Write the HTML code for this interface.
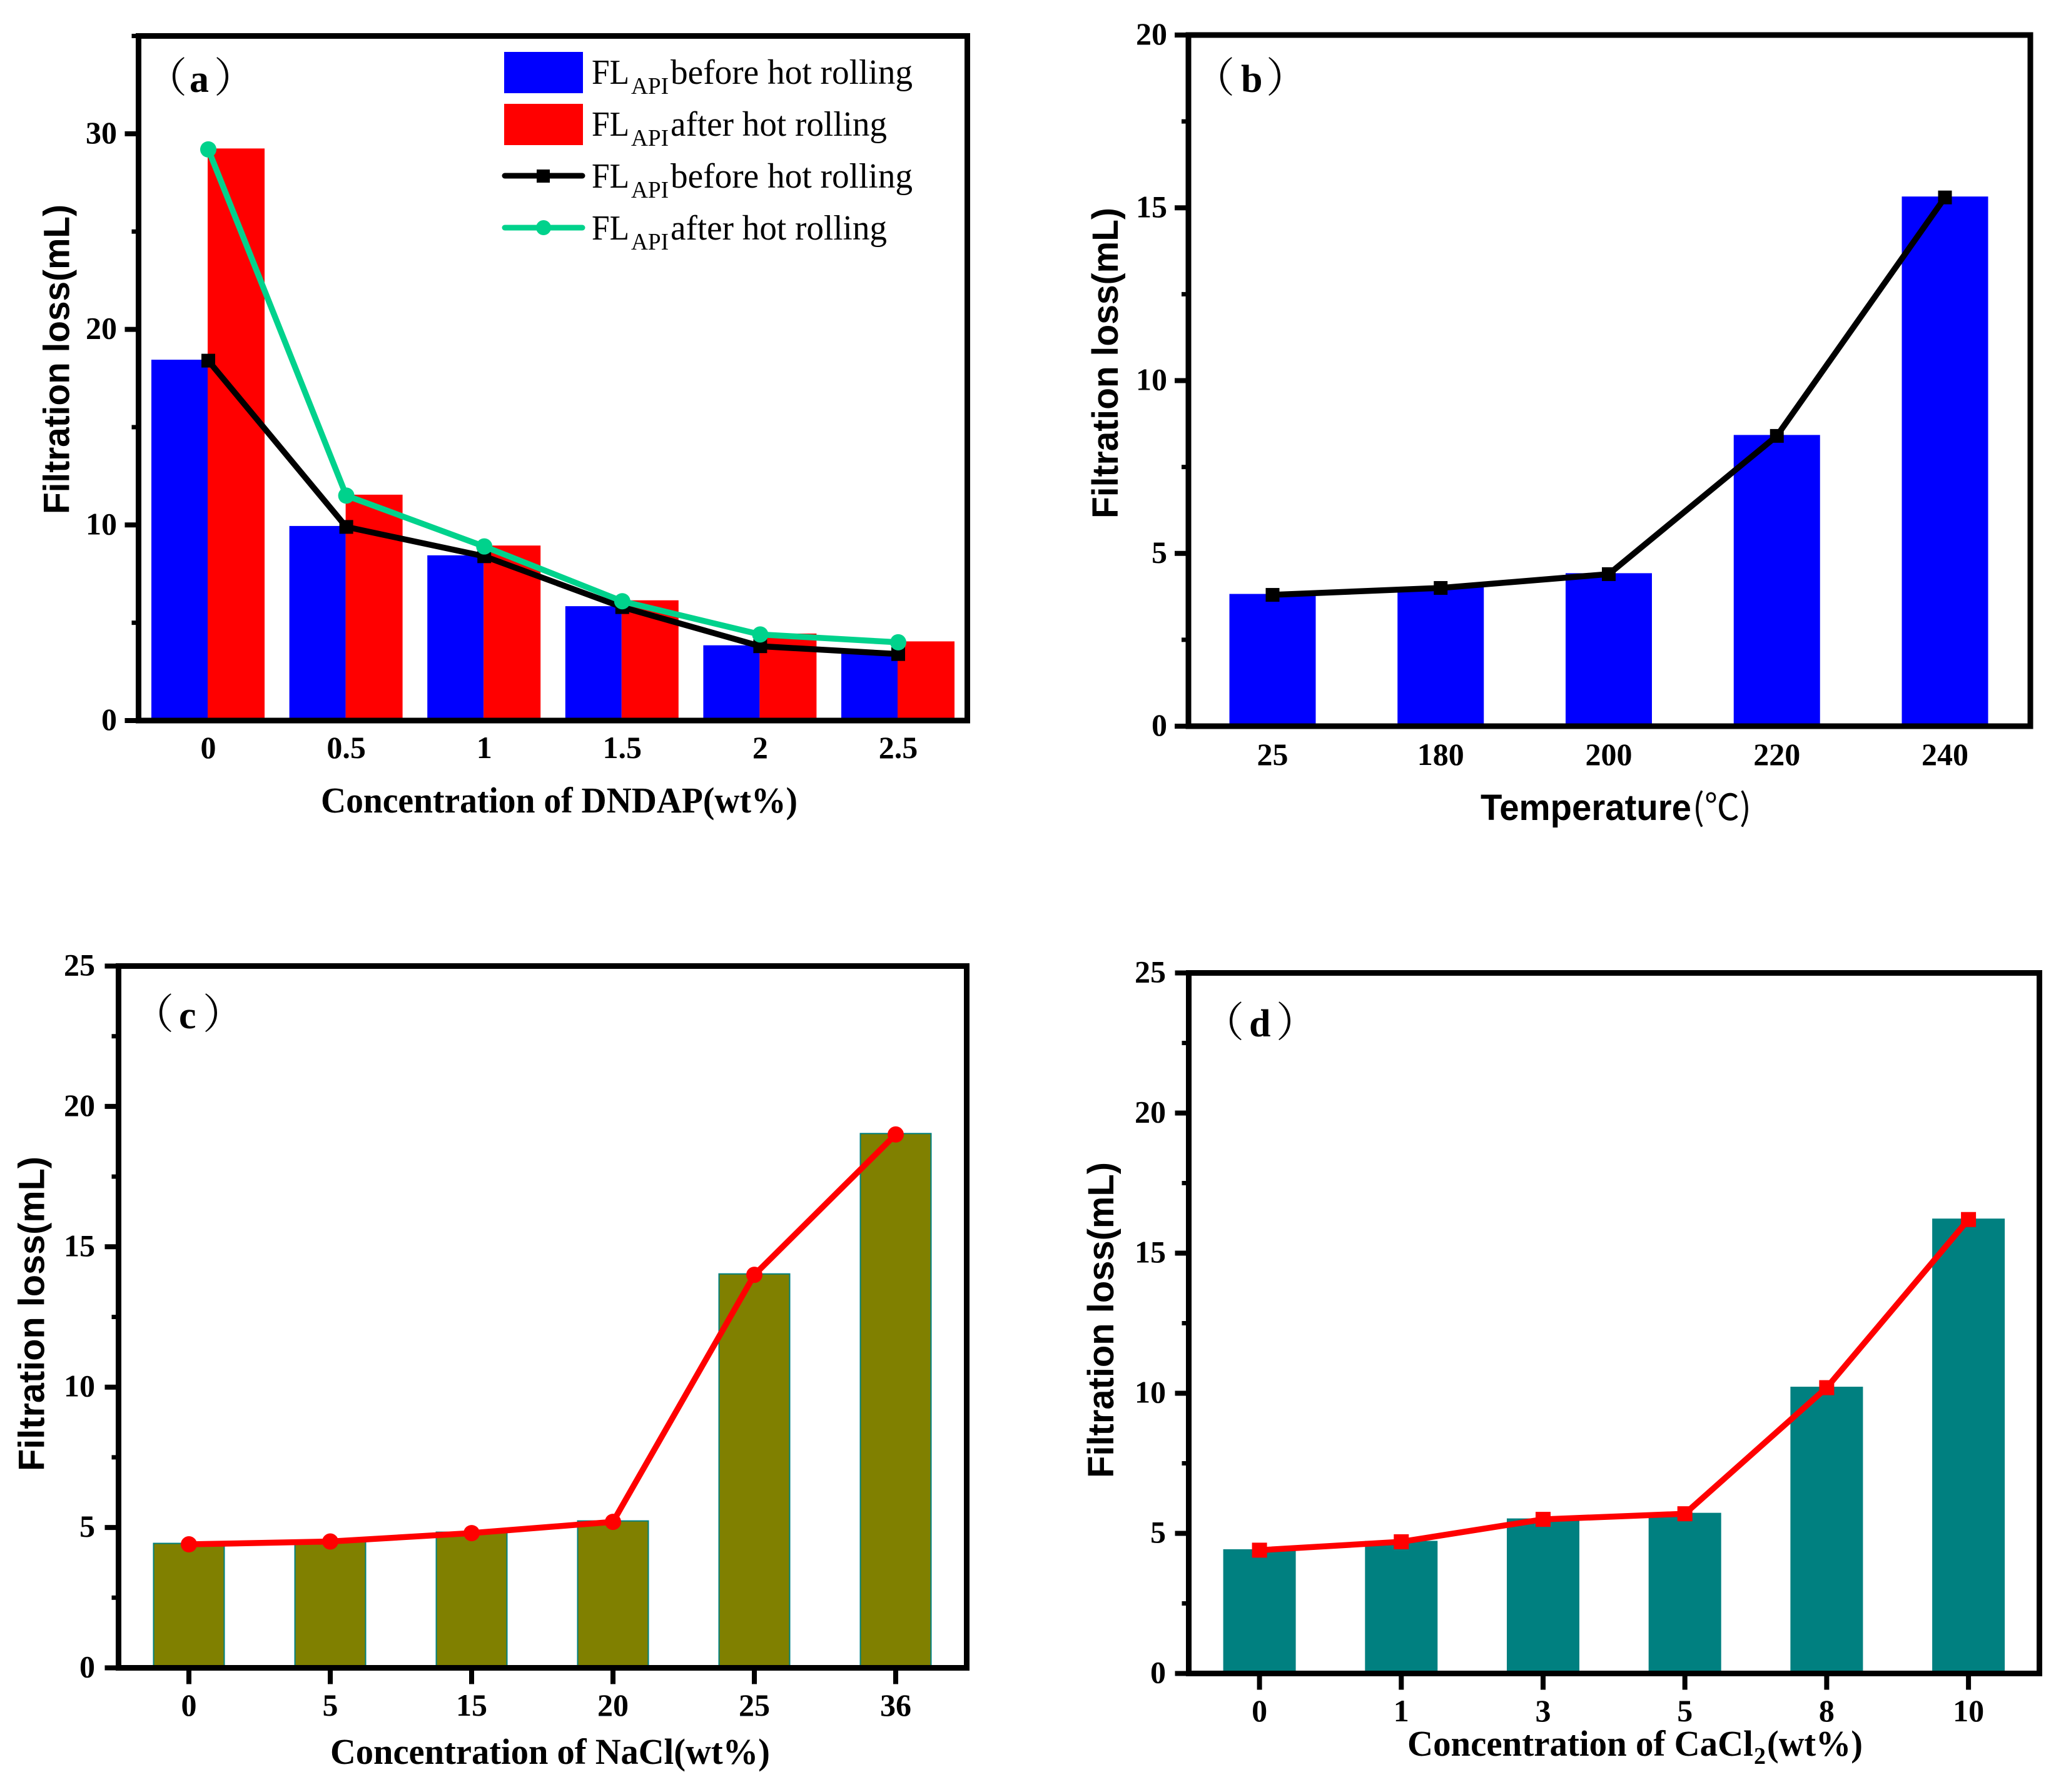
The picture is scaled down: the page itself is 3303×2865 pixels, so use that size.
<!DOCTYPE html>
<html lang="en">
<head>
<meta charset="utf-8">
<title>Filtration loss charts</title>
<style>
html,body{margin:0;padding:0;background:#fff;}
svg{display:block;}
text{fill:#000;}
.serif{font-family:"Liberation Serif","Noto Serif CJK SC",serif;}
.sans{font-family:"Liberation Sans","Noto Sans CJK SC",sans-serif;font-weight:bold;}
.tick{font-family:"Liberation Serif",serif;font-weight:bold;font-size:50px;}
.xtitle{font-family:"Liberation Serif",serif;font-weight:bold;font-size:58px;}
.ytitle{font-family:"Liberation Sans",sans-serif;font-weight:bold;font-size:58px;}
.paren{font-family:"Noto Serif CJK SC",serif;font-size:66px;}
.plabel{font-family:"Liberation Serif",serif;font-weight:bold;font-size:62px;}
.leg{font-family:"Liberation Serif",serif;font-size:56px;}
.legsub{font-family:"Liberation Serif",serif;font-size:38px;}
</style>
</head>
<body>
<svg id="figure" xmlns="http://www.w3.org/2000/svg" width="3303" height="2865" viewBox="0 0 3303 2865">
  <rect x="0" y="0" width="3303" height="2865" fill="#fff"/>

  <g id="panel-a"></g>
  <g id="panel-b"></g>
  <g id="panel-c"></g>
  <g id="panel-d"></g>

  <!-- Panel a static text -->
  <g>
    <text class="paren" x="233" y="147">（</text><text class="plabel" x="303" y="147">a</text><text class="paren" x="342" y="147">）</text>
  </g>
  <text class="xtitle" x="513" y="1299" textLength="762" lengthAdjust="spacingAndGlyphs">Concentration of DNDAP(wt%)</text>
  <text class="ytitle" transform="translate(110.5,822) rotate(-90)" textLength="495" lengthAdjust="spacingAndGlyphs">Filtration loss(mL)</text>

  <!-- Panel a legend -->
  <g>
    <rect x="806" y="83" width="126" height="66" fill="#0000ff"/>
    <g>
      <text class="leg" x="946" y="134" textLength="60" lengthAdjust="spacingAndGlyphs">FL</text><text class="legsub" x="1009" y="150" textLength="60" lengthAdjust="spacingAndGlyphs">API</text><text class="leg" x="1072" y="134" textLength="387" lengthAdjust="spacingAndGlyphs">before hot rolling</text>
    </g>
    <rect x="806" y="166" width="126" height="66" fill="#ff0000"/>
    <g>
      <text class="leg" x="946" y="217" textLength="60" lengthAdjust="spacingAndGlyphs">FL</text><text class="legsub" x="1009" y="233" textLength="60" lengthAdjust="spacingAndGlyphs">API</text><text class="leg" x="1072" y="217" textLength="346" lengthAdjust="spacingAndGlyphs">after hot rolling</text>
    </g>
    <g>
      <line x1="807" y1="281" x2="931" y2="281" stroke="#000" stroke-width="9" stroke-linecap="round"/>
      <rect x="858" y="271" width="21" height="21" fill="#000"/>
    </g>
    <g>
      <text class="leg" x="946" y="300" textLength="60" lengthAdjust="spacingAndGlyphs">FL</text><text class="legsub" x="1009" y="316" textLength="60" lengthAdjust="spacingAndGlyphs">API</text><text class="leg" x="1072" y="300" textLength="387" lengthAdjust="spacingAndGlyphs">before hot rolling</text>
    </g>
    <g>
      <line x1="807" y1="364" x2="931" y2="364" stroke="#00d28c" stroke-width="9" stroke-linecap="round"/>
      <circle cx="869" cy="364" r="12" fill="#00d28c"/>
    </g>
    <g>
      <text class="leg" x="946" y="383" textLength="60" lengthAdjust="spacingAndGlyphs">FL</text><text class="legsub" x="1009" y="399" textLength="60" lengthAdjust="spacingAndGlyphs">API</text><text class="leg" x="1072" y="383" textLength="346" lengthAdjust="spacingAndGlyphs">after hot rolling</text>
    </g>
  </g>

  <!-- Panel b static text -->
  <g>
    <text class="paren" x="1908" y="147">（</text><text class="plabel" x="1984" y="147">b</text><text class="paren" x="2024" y="147">）</text>
  </g>
  <g>
    <text class="sans" style="font-size:58px" x="2367" y="1311" textLength="337" lengthAdjust="spacingAndGlyphs">Temperature</text><text style="font-family:'Noto Sans CJK SC',sans-serif;font-size:58px" x="2706" y="1311" textLength="94" lengthAdjust="spacingAndGlyphs">(℃)</text>
  </g>
  <text class="ytitle" transform="translate(1787,829) rotate(-90)" textLength="497" lengthAdjust="spacingAndGlyphs">Filtration loss(mL)</text>

  <!-- Panel c static text -->
  <g>
    <text class="paren" x="212" y="1644">（</text><text class="plabel" x="286" y="1644">c</text><text class="paren" x="324" y="1644">）</text>
  </g>
  <text class="xtitle" x="528" y="2820" textLength="703" lengthAdjust="spacingAndGlyphs">Concentration of NaCl(wt%)</text>
  <text class="ytitle" transform="translate(70.5,2352) rotate(-90)" textLength="503" lengthAdjust="spacingAndGlyphs">Filtration loss(mL)</text>

  <!-- Panel d static text -->
  <g>
    <text class="paren" x="1923" y="1657">（</text><text class="plabel" x="1997" y="1657">d</text><text class="paren" x="2040" y="1657">）</text>
  </g>
  <g>
    <text class="xtitle" x="2250" y="2807" textLength="553" lengthAdjust="spacingAndGlyphs">Concentration of CaCl</text><text class="xtitle" style="font-size:38px" x="2804" y="2820">2</text><text class="xtitle" x="2825" y="2807" textLength="153" lengthAdjust="spacingAndGlyphs">(wt%)</text>
  </g>
  <text class="ytitle" transform="translate(1780,2363) rotate(-90)" textLength="505" lengthAdjust="spacingAndGlyphs">Filtration loss(mL)</text>
</svg>

<script>
// Panel a data
const aCategories = ["0", "0.5", "1", "1.5", "2", "2.5"];
const aBarsBefore = [18.4, 9.9, 8.4, 5.8, 3.8, 3.4];
const aBarsAfter = [29.2, 11.5, 8.9, 6.1, 4.4, 4.0];
const aLineBefore = [18.4, 9.9, 8.4, 5.8, 3.8, 3.4];
const aLineAfter = [29.2, 11.5, 8.9, 6.1, 4.4, 4.0];
const aYTicks = [0, 10, 20, 30];
const aYMinorTicks = [5, 15, 25, 35];

// Panel b data
const bCategories = ["25", "180", "200", "220", "240"];
const bBars = [3.8, 4.0, 4.4, 8.4, 15.3];
const bLine = [3.8, 4.0, 4.4, 8.4, 15.3];
const bYTicks = [0, 5, 10, 15, 20];
const bYMinorTicks = [2.5, 7.5, 12.5, 17.5];

// Panel c data
const cCategories = ["0", "5", "15", "20", "25", "36"];
const cBars = [4.4, 4.5, 4.8, 5.2, 14, 19];
const cLine = [4.4, 4.5, 4.8, 5.2, 14, 19];
const cYTicks = [0, 5, 10, 15, 20, 25];
const cYMinorTicks = [2.5, 7.5, 12.5, 17.5, 22.5];

// Panel d data
const dCategories = ["0", "1", "3", "5", "8", "10"];
const dBars = [4.4, 4.7, 5.5, 5.7, 10.2, 16.2];
const dLine = [4.4, 4.7, 5.5, 5.7, 10.2, 16.2];
const dYTicks = [0, 5, 10, 15, 20, 25];
const dYMinorTicks = [2.5, 7.5, 12.5, 17.5, 22.5];

const NS = "http://www.w3.org/2000/svg";

function make(parent, tag, props) {
  const el = document.createElementNS(NS, tag);
  for (const k in props) el.setAttribute(k, props[k]);
  parent.appendChild(el);
  return el;
}

function drawAxes(g, p, yScale, categories, yTicks, yMinor, xScale) {
  yTicks.forEach(function (v) {
    const t = make(g, "line", { x1: p.left - 22, x2: p.left, y1: yScale(v), y2: yScale(v), stroke: "#000", "stroke-width": 8 });
    
    
    const l = make(g, "text", { class: "tick", x: p.labelRight, y: yScale(v) + 15, "text-anchor": "end" });
    
    
    l.textContent = String(v);
  });
  yMinor.forEach(function (v) {
    const t = make(g, "line", { x1: p.left - 11, x2: p.left, y1: yScale(v), y2: yScale(v), stroke: "#000", "stroke-width": 7 });
    
    
  });
  categories.forEach(function (c, i) {
    if (p.xTicks) {
      const t = make(g, "line", { x1: xScale(i), x2: xScale(i), y1: p.bottom, y2: p.bottom + 26, stroke: "#000", "stroke-width": 8 });
      
      
    }
    const l = make(g, "text", { class: "tick", x: xScale(i), y: p.xLabelY, "text-anchor": "middle" });
    
    
    l.textContent = c;
  });
}

function drawFrame(g, p) {
  const f = make(g, "rect", { x: p.left, y: p.top, width: p.right - p.left, height: p.bottom - p.top, fill: "none", stroke: "#000", "stroke-width": 9 });
  
  
}

function drawBars(g, values, xLeft, barW, yScale, bottom, fill, stroke, name) {
  values.forEach(function (v, i) {
    const top = yScale(v) - 1.5;
    const props = { x: xLeft(i), y: top, width: barW, height: bottom - top, fill: fill };
    if (stroke) { props.stroke = stroke; props["stroke-width"] = 2; }
    const b = make(g, "rect", props);
    
    
  });
}

function drawLine(g, values, xScale, yScale, color, width, marker, size, name) {
  const pts = values.map(function (v, i) { return xScale(i) + "," + yScale(v); }).join(" ");
  const pl = make(g, "polyline", { points: pts, fill: "none", stroke: color, "stroke-width": width, "stroke-linejoin": "round", "stroke-linecap": "round" });
  
  
  values.forEach(function (v, i) {
    let m;
    if (marker === "square") {
      m = make(g, "rect", { x: xScale(i) - size / 2, y: yScale(v) - size / 2, width: size, height: size, fill: color });
    } else {
      m = make(g, "circle", { cx: xScale(i), cy: yScale(v), r: size / 2, fill: color });
    }
    
    
  });
}

function scaleY(p, max) {
  return function (v) { return p.bottom - (v / max) * (p.bottom - p.top); };
}
function scaleX(start, step) {
  return function (i) { return start + i * step; };
}

// Panel a
(function () {
  const g = document.getElementById("panel-a");
  const p = { left: 221.5, right: 1546.5, top: 57.5, bottom: 1152, labelRight: 187, xLabelY: 1212, xTicks: false };
  const y = scaleY(p, 35);
  const x = scaleX(333, 220.6);
  drawBars(g, aBarsBefore, function (i) { return x(i) - 91; }, 90, y, p.bottom, "#0000ff", null, "bar-before-hot-rolling");
  drawBars(g, aBarsAfter, function (i) { return x(i) - 1; }, 91, y, p.bottom, "#ff0000", null, "bar-after-hot-rolling");
  drawFrame(g, p);
  drawAxes(g, p, y, aCategories, aYTicks, aYMinorTicks, x);
  drawLine(g, aLineBefore, x, y, "#000000", 9.5, "square", 22, "line-before-hot-rolling");
  drawLine(g, aLineAfter, x, y, "#00d28c", 9.5, "circle", 26, "line-after-hot-rolling");
})();

// Panel b
(function () {
  const g = document.getElementById("panel-b");
  const p = { left: 1900, right: 3246, top: 56, bottom: 1161, labelRight: 1866, xLabelY: 1223, xTicks: false };
  const y = scaleY(p, 20);
  const x = scaleX(2034.5, 268.75);
  drawBars(g, bBars, function (i) { return x(i) - 69; }, 138, y, p.bottom, "#0000ff", null, "bar-temperature");
  drawFrame(g, p);
  drawAxes(g, p, y, bCategories, bYTicks, bYMinorTicks, x);
  drawLine(g, bLine, x, y, "#000000", 9.5, "square", 22, "line-temperature");
})();

// Panel c
(function () {
  const g = document.getElementById("panel-c");
  const p = { left: 189.5, right: 1545.5, top: 1544.5, bottom: 2666.5, labelRight: 152, xLabelY: 2743, xTicks: true };
  const y = scaleY(p, 25);
  const x = scaleX(302, 226);
  drawBars(g, cBars, function (i) { return x(i) - 56.5; }, 113, y, p.bottom, "#808000", "#008080", "bar-nacl");
  drawFrame(g, p);
  drawAxes(g, p, y, cCategories, cYTicks, cYMinorTicks, x);
  drawLine(g, cLine, x, y, "#ff0000", 9.5, "circle", 26, "line-nacl");
})();

// Panel d
(function () {
  const g = document.getElementById("panel-d");
  const p = { left: 1900.5, right: 3260.5, top: 1555.5, bottom: 2675.5, labelRight: 1864, xLabelY: 2752, xTicks: true };
  const y = scaleY(p, 25);
  const x = scaleX(2013.6, 226.7);
  drawBars(g, dBars, function (i) { return x(i) - 58; }, 116, y, p.bottom, "#008080", null, "bar-cacl2");
  drawFrame(g, p);
  drawAxes(g, p, y, dCategories, dYTicks, dYMinorTicks, x);
  drawLine(g, dLine, x, y, "#ff0000", 9.5, "square", 24, "line-cacl2");
})();
</script>
</body>
</html>
